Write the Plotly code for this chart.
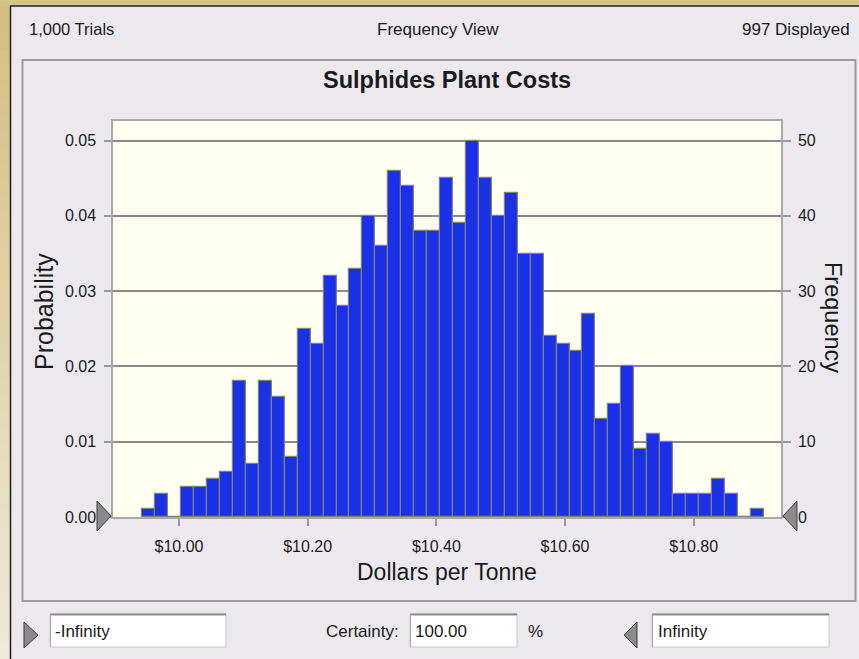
import plotly.graph_objects as go

# ---- data ----
freq = [1, 3, 0, 4, 4, 5, 6, 18, 7, 18, 16, 8, 25, 23, 32, 28, 33, 40, 36, 46,
        44, 38, 38, 45, 39, 50, 45, 40, 43, 35, 35, 24, 23, 22, 27, 13, 15, 20, 9, 11,
        10, 3, 3, 3, 5, 3, 0, 1]
bin_start = 9.943
bin_width = 0.02012
trials_text = "1,000 Trials"
displayed_text = "997 Displayed"
trials = 1000
x_tick_vals = [10.0, 10.2, 10.4, 10.6, 10.8]
x_tick_text = ["$10.00", "$10.20", "$10.40", "$10.60", "$10.80"]
freq_ticks = [0, 10, 20, 30, 40, 50]
prob_ticks = [0.00, 0.01, 0.02, 0.03, 0.04, 0.05]
prob_tick_text = ["0.00", "0.01", "0.02", "0.03", "0.04", "0.05"]

centers = [bin_start + (i + 0.5) * bin_width for i in range(len(freq))]

W, H = 859, 659
L, R, T, B = 113, 781, 121, 517
def PX(x):
    return (x - L) / (R - L)
def PY(y):
    return (B - y) / (B - T)

FONT = "Liberation Sans, Arial, sans-serif"
TXT = "#1a1a1a"
YMAX = 52.6

fig = go.Figure()
fig.add_trace(go.Bar(
    x=centers, y=freq, width=bin_width,
    marker=dict(color="#1b31e8", line=dict(color="#808080", width=1.2)),
    yaxis="y", showlegend=False, hoverinfo="x+y"))
fig.add_trace(go.Scatter(
    x=[centers[0]], y=[0], yaxis="y2", mode="markers",
    marker=dict(opacity=0), showlegend=False, hoverinfo="skip"))

shapes = []
# window gold frame (left gradient, top strip)
N = 40
c0 = (211, 191, 126)
c1 = (238, 233, 218)
for k in range(N):
    t = k / (N - 1)
    col = "rgb(%d,%d,%d)" % tuple(int(c0[j] + (c1[j] - c0[j]) * t) for j in range(3))
    y0 = k * H / N
    y1 = (k + 1) * H / N + 1
    shapes.append(dict(type="rect", xref="paper", yref="paper",
                       x0=PX(0), x1=PX(10), y0=PY(y1), y1=PY(y0),
                       fillcolor=col, line=dict(width=0), layer="below"))
shapes.append(dict(type="rect", xref="paper", yref="paper",
                   x0=PX(0), x1=PX(W), y0=PY(6), y1=PY(0),
                   fillcolor="rgb(214,196,135)", line=dict(width=0), layer="below"))
shapes.append(dict(type="line", xref="paper", yref="paper",
                   x0=PX(10.5), x1=PX(10.5), y0=PY(6), y1=PY(H),
                   line=dict(color="#1e1e1e", width=1.5)))
shapes.append(dict(type="line", xref="paper", yref="paper",
                   x0=PX(10), x1=PX(W), y0=PY(6), y1=PY(6),
                   line=dict(color="#1e1e1e", width=1.5)))
# chart panel border
shapes.append(dict(type="rect", xref="paper", yref="paper",
                   x0=PX(22.5), x1=PX(855.5), y0=PY(601), y1=PY(60),
                   line=dict(color="#9c9c9c", width=2), fillcolor="rgba(0,0,0,0)"))
# text boxes
for (bx0, bx1) in [(50, 226), (410, 517), (652, 829)]:
    shapes.append(dict(type="rect", xref="paper", yref="paper",
                       x0=PX(bx0), x1=PX(bx1), y0=PY(647), y1=PY(614),
                       fillcolor="white", line=dict(color="#c8c8c8", width=1)))
    shapes.append(dict(type="line", xref="paper", yref="paper",
                       x0=PX(bx0), x1=PX(bx1), y0=PY(614.5), y1=PY(614.5),
                       line=dict(color="#8c8c8c", width=2)))
    shapes.append(dict(type="line", xref="paper", yref="paper",
                       x0=PX(bx0 + 0.5), x1=PX(bx0 + 0.5), y0=PY(647), y1=PY(614),
                       line=dict(color="#a8a8a8", width=1)))

def tri(pts, fill="#8a8a8a"):
    path = "M " + " L ".join("%f,%f" % (PX(a), PY(b)) for a, b in pts) + " Z"
    return dict(type="path", xref="paper", yref="paper", path=path,
                fillcolor=fill, line=dict(color="#3c3c3c", width=1), layer="above")

shapes.append(tri([(97, 501), (97, 531), (111, 516)]))
shapes.append(tri([(797, 501), (797, 531), (783, 516)]))
shapes.append(tri([(24, 622), (24, 648), (38, 635)]))
shapes.append(tri([(637, 622), (637, 648), (624, 635)]))

def ann(text, x, y, xa="center", ya="middle", size=17, angle=0, color=TXT):
    return dict(text=text, x=PX(x), y=PY(y), xref="paper", yref="paper",
                xanchor=xa, yanchor=ya, showarrow=False, textangle=angle,
                font=dict(family=FONT, size=size, color=color))

annotations = [
    ann(trials_text, 27, 29, xa="left", size=16.5),
    ann("Frequency View", 438, 29),
    ann(displayed_text, 852, 29, xa="right"),
    ann("<b>Sulphides Plant Costs</b>", 447, 80, size=23.5),
    ann("Dollars per Tonne", 447, 572, size=23),
    ann("Probability", 44, 312, size=25, angle=-90),
    ann("Frequency", 833, 317, size=23.5, angle=90),
    ann("-Infinity", 53, 631, xa="left"),
    ann("Certainty:", 401, 631, xa="right"),
    ann("100.00", 413, 631, xa="left"),
    ann("%", 535, 631),
    ann("Infinity", 656, 631, xa="left"),
]

fig.update_layout(
    width=W, height=H,
    margin=dict(l=L, r=W - R, t=T, b=H - B, pad=0),
    paper_bgcolor="#ebe9ee",
    plot_bgcolor="#fffff2",
    bargap=0,
    showlegend=False,
    shapes=shapes,
    annotations=annotations,
    xaxis=dict(range=[9.8974, 10.9357], tickvals=x_tick_vals, ticktext=x_tick_text,
               ticks="outside", ticklen=7, tickcolor="#999999", tickwidth=1.5,
               showgrid=False, zeroline=False, showline=True, mirror=True,
               linecolor="#a8a8a8", linewidth=1.5, ticklabelstandoff=7,
               tickfont=dict(family=FONT, size=16, color=TXT)),
    yaxis=dict(range=[0, YMAX], tickvals=freq_ticks, side="right",
               ticks="outside", ticklen=8, tickcolor="#999999", tickwidth=1.5,
               showgrid=True, gridcolor="#8a8a8a", gridwidth=1.5, zeroline=False,
               showline=True, linecolor="#a8a8a8", linewidth=1.5, ticklabelstandoff=4,
               tickfont=dict(family=FONT, size=16, color=TXT)),
    yaxis2=dict(range=[0, YMAX / trials], tickvals=prob_ticks, ticktext=prob_tick_text,
                overlaying="y", side="left",
                ticks="outside", ticklen=7, tickcolor="#999999", tickwidth=1.5,
                showgrid=False, zeroline=False,
                showline=True, linecolor="#a8a8a8", linewidth=1.5, ticklabelstandoff=5,
                tickfont=dict(family=FONT, size=16, color=TXT)),
)

fig.write_html("out.html", config={"displayModeBar": False},
               post_script="document.body.style.margin='0';document.body.style.overflow='hidden';")
